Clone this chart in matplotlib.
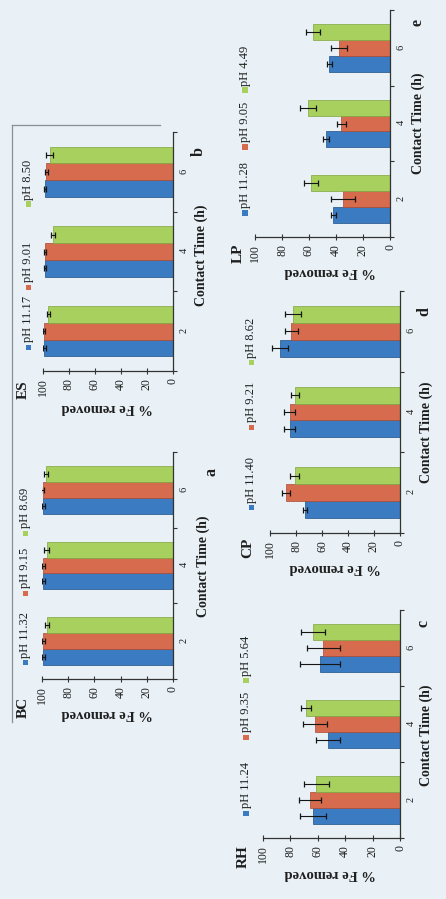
import matplotlib
matplotlib.use('Agg')
import matplotlib.pyplot as plt
from matplotlib.patches import Rectangle
from matplotlib.lines import Line2D
import numpy as np

plt.rcParams['font.family'] = ['Liberation Serif', 'DejaVu Serif']

W, H = 446, 899
BG = '#e9f1f6'
INK = '#1e1e1e'

contact_time = ['2', '4', '6']
removal_ticks = [0, 20, 40, 60, 80, 100]
series_colors = ['#3a7bc2', '#d66b4d', '#a8d05e']
edge_colors = ['#1f4f86', '#a84a33', '#7fa53e']

# BC
bc_ph = ['pH 11.32', 'pH 9.15', 'pH 8.69']
bc_high = [99.0, 99.0, 99.0]
bc_mid = [99.0, 99.0, 99.5]
bc_low = [96.5, 96.5, 97.0]
bc_high_err = [1.0, 1.0, 1.0]
bc_mid_err = [1.0, 1.0, 1.0]
bc_low_err = [1.5, 2.0, 1.5]

# ES
es_ph = ['pH 11.17', 'pH 9.01', 'pH 8.50']
es_high = [99.0, 98.5, 98.5]
es_mid = [99.0, 98.5, 97.5]
es_low = [96.0, 92.0, 95.0]
es_high_err = [1.0, 1.0, 1.0]
es_mid_err = [0.8, 0.8, 1.0]
es_low_err = [1.0, 1.5, 3.0]

# RH
rh_ph = ['pH 11.24', 'pH 9.35', 'pH 5.64']
rh_high = [63.5, 52.5, 58.5]
rh_mid = [65.5, 62.0, 56.0]
rh_low = [61.0, 68.5, 63.5]
rh_high_err = [9.5, 8.5, 14.5]
rh_mid_err = [8.0, 9.0, 12.0]
rh_low_err = [9.0, 3.5, 8.5]

# CP
cp_ph = ['pH 11.40', 'pH 9.21', 'pH 8.62']
cp_high = [73.0, 85.0, 92.5]
cp_mid = [87.5, 85.0, 83.5]
cp_low = [81.0, 81.0, 82.5]
cp_high_err = [1.5, 4.0, 6.0]
cp_mid_err = [3.0, 4.0, 5.0]
cp_low_err = [3.5, 3.0, 6.0]

# LP
lp_ph = ['pH 11.28', 'pH 9.05', 'pH 4.49']
lp_high = [42.0, 47.5, 45.0]
lp_mid = [35.0, 36.0, 38.0]
lp_low = [58.5, 61.0, 57.0]
lp_high_err = [2.0, 2.0, 2.0]
lp_mid_err = [9.0, 3.5, 6.0]
lp_low_err = [5.0, 6.0, 5.0]

panels = [
    dict(name='ES', letter='b', ph=es_ph, vals=[es_high, es_mid, es_low],
         errs=[es_high_err, es_mid_err, es_low_err],
         rect=(43, 132, 173, 371), name_xy=(23, 390), letter_xy=(199, 152),
         legend_x=28, legend_y=[347, 287, 204], ctime_x=201, ctime_y=255, flab_xy=(107, 408)),
    dict(name='BC', letter='a', ph=bc_ph, vals=[bc_high, bc_mid, bc_low],
         errs=[bc_high_err, bc_mid_err, bc_low_err],
         rect=(42, 452, 173, 679), name_xy=(23, 707), letter_xy=(212, 472),
         legend_x=25, legend_y=[662, 593, 533], ctime_x=203, ctime_y=566, flab_xy=(107, 713)),
    dict(name='LP', letter='e', ph=lp_ph, vals=[lp_high, lp_mid, lp_low],
         errs=[lp_high_err, lp_mid_err, lp_low_err],
         rect=(255, 10, 390, 237), name_xy=(238, 253), letter_xy=(418, 23),
         legend_x=245, legend_y=[213, 147, 90], ctime_x=418, ctime_y=123, flab_xy=(330, 272)),
    dict(name='CP', letter='d', ph=cp_ph, vals=[cp_high, cp_mid, cp_low],
         errs=[cp_high_err, cp_mid_err, cp_low_err],
         rect=(270, 291, 400, 533), name_xy=(248, 548), letter_xy=(424, 312),
         legend_x=251, legend_y=[507, 427, 362], ctime_x=426, ctime_y=432, flab_xy=(335, 567)),
    dict(name='RH', letter='c', ph=rh_ph, vals=[rh_high, rh_mid, rh_low],
         errs=[rh_high_err, rh_mid_err, rh_low_err],
         rect=(263, 610, 400, 838), name_xy=(243, 857), letter_xy=(424, 623),
         legend_x=246, legend_y=[813, 737, 680], ctime_x=426, ctime_y=735, flab_xy=(330, 873)),
]

fig = plt.figure(figsize=(W / 100, H / 100), dpi=100)
fig.patch.set_facecolor(BG)


def fx(x):
    return x / W


def fy(y):
    return 1 - y / H


# frame around the upper pair of charts
for (x0, y0, x1, y1) in [(12, 125, 12, 722), (12, 125, 160, 125)]:
    fig.add_artist(Line2D([fx(x0), fx(x1)], [fy(y0), fy(y1)], color='#8a8f94',
                          lw=0.9, transform=fig.transFigure))

pos = np.arange(1, len(contact_time) + 1)
bar_h = 0.21

for p in panels:
    x0, y0, x1, y1 = p['rect']
    ax = fig.add_axes([fx(x0), fy(y1), (x1 - x0) / W, (y1 - y0) / H])
    ax.set_facecolor('none')

    for i, (v, e) in enumerate(zip(p['vals'], p['errs'])):
        ax.barh(pos + (i - 1) * bar_h, v, height=bar_h, xerr=e,
                color=series_colors[i], edgecolor=edge_colors[i], linewidth=0.5,
                error_kw=dict(ecolor='#151515', elinewidth=0.8, capsize=2, capthick=0.9))

    ax.set_xlim(100, 0)
    ax.set_ylim(0.5, len(contact_time) + 0.5)

    for s in ['top', 'left']:
        ax.spines[s].set_visible(False)
    for s in ['right', 'bottom']:
        ax.spines[s].set_color('#333333')
        ax.spines[s].set_linewidth(0.9)

    ax.set_xticks(removal_ticks)
    ax.set_xticklabels([str(t) for t in removal_ticks])
    ax.tick_params(axis='x', direction='inout', length=4, width=0.8, color='#333333',
                   labelsize=8.5, labelcolor=INK, labelrotation=90, pad=3)

    ax.yaxis.tick_right()
    ax.set_yticks(pos)
    ax.set_yticklabels(contact_time)
    ax.set_yticks(np.arange(0.5, len(contact_time) + 1), minor=True)
    ax.tick_params(axis='y', which='major', length=0, pad=5, labelsize=7.5,
                   labelcolor=INK, labelrotation=90)
    ax.tick_params(axis='y', which='minor', length=3, width=0.8, direction='out',
                   color='#333333')

    # value-axis title
    fxl, fyl = p['flab_xy']
    ax.set_xlabel('% Fe removed', fontsize=10.5, fontweight='bold', color=INK,
                  rotation=180, ha='center', va='center')
    ax.xaxis.set_label_coords((fxl - x0) / (x1 - x0), (y1 - fyl) / (y1 - y0))

    # category-axis title
    ax.yaxis.set_label_position('right')
    ax.set_ylabel('Contact Time (h)', fontsize=10, fontweight='bold', color=INK,
                  rotation=90, ha='center', va='center')
    ax.yaxis.set_label_coords((p['ctime_x'] - x0) / (x1 - x0),
                              (y1 - p['ctime_y']) / (y1 - y0))

    # sorbent name and panel letter
    nx, ny = p['name_xy']
    fig.text(fx(nx), fy(ny), p['name'], rotation=90, ha='center', va='center',
             fontsize=11, fontweight='bold', color=INK)
    lx, ly = p['letter_xy']
    fig.text(fx(lx), fy(ly), p['letter'], rotation=90, ha='center', va='center',
             fontsize=11.5, fontweight='bold', color=INK)

    # legend drawn along the rotated top edge
    sq = 5
    for i, (lab, ys) in enumerate(zip(p['ph'], p['legend_y'])):
        fig.add_artist(Rectangle((fx(p['legend_x'] - sq / 2), fy(ys + sq / 2)),
                                 sq / W, sq / H, transform=fig.transFigure,
                                 facecolor=series_colors[i], edgecolor='none'))
        fig.text(fx(p['legend_x']), fy(ys - sq / 2 - 2), lab, rotation=90,
                 ha='center', va='bottom', fontsize=9, color=INK)

fig.savefig('out.png', dpi=100, facecolor=BG)
